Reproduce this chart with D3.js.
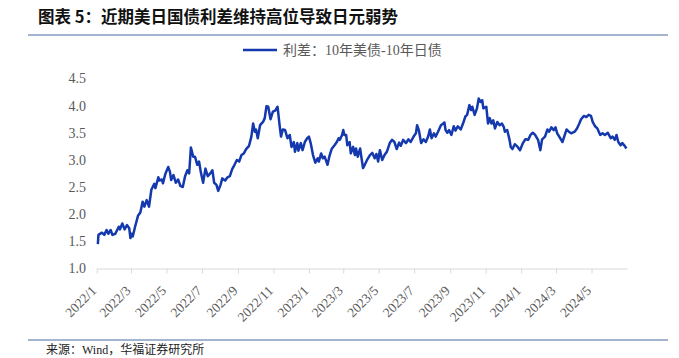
<!DOCTYPE html>
<html>
<head>
<meta charset="utf-8">
<script src="https://cdn.jsdelivr.net/npm/d3@7.9.0/dist/d3.min.js"></script>
<style>
  body { margin: 0; background: #fff; }
  svg { display: block; }
</style>
</head>
<body>
<svg id="chart" width="679" height="358"></svg>
<script>
// 利差：10年美债-10年日债 (%)
const spread2022 = [
  ['2022-01-03', 1.45], ['2022-01-04', 1.62], ['2022-01-10', 1.66], ['2022-01-14', 1.62],
  ['2022-01-18', 1.71], ['2022-01-21', 1.64], ['2022-01-25', 1.71], ['2022-01-28', 1.62],
  ['2022-02-02', 1.64], ['2022-02-08', 1.77], ['2022-02-10', 1.72], ['2022-02-14', 1.83],
  ['2022-02-18', 1.72], ['2022-02-22', 1.80], ['2022-02-26', 1.74], ['2022-02-28', 1.56],
  ['2022-03-02', 1.64], ['2022-03-04', 1.59], ['2022-03-08', 1.77], ['2022-03-13', 1.97],
  ['2022-03-17', 2.03], ['2022-03-21', 2.23], ['2022-03-24', 2.14], ['2022-03-28', 2.26],
  ['2022-04-01', 2.14], ['2022-04-05', 2.45], ['2022-04-10', 2.56], ['2022-04-12', 2.48],
  ['2022-04-17', 2.68], ['2022-04-19', 2.62], ['2022-04-23', 2.64], ['2022-04-25', 2.57],
  ['2022-04-29', 2.74], ['2022-05-04', 2.87], ['2022-05-07', 2.78], ['2022-05-09', 2.63],
  ['2022-05-13', 2.72], ['2022-05-17', 2.58], ['2022-05-21', 2.64], ['2022-05-25', 2.52],
  ['2022-05-29', 2.50], ['2022-06-02', 2.70], ['2022-06-06', 2.81], ['2022-06-09', 2.75],
  ['2022-06-12', 3.23], ['2022-06-16', 3.06], ['2022-06-19', 3.06], ['2022-06-23', 2.91],
  ['2022-06-26', 2.97], ['2022-06-29', 2.78], ['2022-07-03', 2.58], ['2022-07-07', 2.84],
  ['2022-07-11', 2.70], ['2022-07-16', 2.76], ['2022-07-19', 2.81], ['2022-07-22', 2.58],
  ['2022-07-26', 2.54], ['2022-07-29', 2.43], ['2022-08-02', 2.54], ['2022-08-05', 2.66],
  ['2022-08-10', 2.62], ['2022-08-14', 2.68], ['2022-08-18', 2.70], ['2022-08-22', 2.83],
  ['2022-08-26', 2.91], ['2022-08-30', 3.00], ['2022-09-03', 2.97], ['2022-09-07', 3.09],
  ['2022-09-11', 3.12], ['2022-09-15', 3.20], ['2022-09-20', 3.26], ['2022-09-24', 3.43],
  ['2022-09-27', 3.67], ['2022-09-30', 3.52], ['2022-10-02', 3.56], ['2022-10-05', 3.40],
  ['2022-10-09', 3.64], ['2022-10-14', 3.70], ['2022-10-17', 3.77], ['2022-10-20', 3.99],
  ['2022-10-23', 3.98], ['2022-10-27', 3.75], ['2022-10-31', 3.89], ['2022-11-04', 3.91],
  ['2022-11-08', 3.98], ['2022-11-12', 3.60], ['2022-11-14', 3.43], ['2022-11-17', 3.56],
  ['2022-11-21', 3.55], ['2022-11-25', 3.40], ['2022-11-29', 3.46], ['2022-12-02', 3.24],
  ['2022-12-06', 3.33], ['2022-12-08', 3.15], ['2022-12-12', 3.31], ['2022-12-14', 3.17],
  ['2022-12-18', 3.31], ['2022-12-21', 3.18], ['2022-12-25', 3.33], ['2022-12-29', 3.40]
];

const spread2023 = [
  ['2023-01-01', 3.43], ['2023-01-04', 3.31], ['2023-01-08', 3.09], ['2023-01-12', 2.95],
  ['2023-01-16', 3.03], ['2023-01-18', 2.97], ['2023-01-22', 3.12], ['2023-01-25', 3.03],
  ['2023-01-28', 3.06], ['2023-02-02', 2.91], ['2023-02-05', 3.06], ['2023-02-09', 3.20],
  ['2023-02-14', 3.27], ['2023-02-18', 3.33], ['2023-02-21', 3.40], ['2023-02-23', 3.37],
  ['2023-02-27', 3.46], ['2023-03-01', 3.55], ['2023-03-03', 3.46], ['2023-03-06', 3.46],
  ['2023-03-08', 3.27], ['2023-03-12', 3.33], ['2023-03-14', 3.12], ['2023-03-18', 3.24],
  ['2023-03-21', 3.09], ['2023-03-23', 3.21], ['2023-03-26', 3.06], ['2023-03-30', 3.21],
  ['2023-04-04', 2.85], ['2023-04-07', 2.91], ['2023-04-11', 3.00], ['2023-04-16', 3.09],
  ['2023-04-20', 3.13], ['2023-04-24', 3.03], ['2023-04-27', 3.11], ['2023-04-30', 2.97],
  ['2023-05-03', 3.18], ['2023-05-07', 3.00], ['2023-05-11', 3.09], ['2023-05-15', 3.15],
  ['2023-05-20', 3.31], ['2023-05-24', 3.37], ['2023-05-28', 3.33], ['2023-06-01', 3.20],
  ['2023-06-05', 3.32], ['2023-06-08', 3.26], ['2023-06-12', 3.37], ['2023-06-17', 3.31],
  ['2023-06-21', 3.38], ['2023-06-25', 3.33], ['2023-06-30', 3.43], ['2023-07-04', 3.49],
  ['2023-07-06', 3.64], ['2023-07-09', 3.55], ['2023-07-13', 3.31], ['2023-07-17', 3.38],
  ['2023-07-21', 3.33], ['2023-07-25', 3.43], ['2023-07-28', 3.56], ['2023-07-31', 3.40],
  ['2023-08-04', 3.49], ['2023-08-07', 3.43], ['2023-08-11', 3.52], ['2023-08-16', 3.64],
  ['2023-08-20', 3.67], ['2023-08-22', 3.69], ['2023-08-24', 3.55], ['2023-08-27', 3.50],
  ['2023-08-30', 3.55], ['2023-09-03', 3.46], ['2023-09-07', 3.62], ['2023-09-10', 3.54],
  ['2023-09-14', 3.62], ['2023-09-19', 3.56], ['2023-09-23', 3.67], ['2023-09-27', 3.80],
  ['2023-09-30', 3.83], ['2023-10-04', 4.01], ['2023-10-07', 3.92], ['2023-10-09', 3.98],
  ['2023-10-13', 3.83], ['2023-10-17', 3.95], ['2023-10-20', 4.13], ['2023-10-23', 4.07],
  ['2023-10-26', 4.10], ['2023-10-28', 3.95], ['2023-11-02', 3.98], ['2023-11-05', 3.67],
  ['2023-11-08', 3.77], ['2023-11-11', 3.67], ['2023-11-14', 3.73], ['2023-11-17', 3.58],
  ['2023-11-21', 3.70], ['2023-11-25', 3.64], ['2023-11-29', 3.67], ['2023-12-02', 3.61],
  ['2023-12-04', 3.52], ['2023-12-08', 3.55], ['2023-12-12', 3.37], ['2023-12-14', 3.24],
  ['2023-12-17', 3.20], ['2023-12-21', 3.29], ['2023-12-26', 3.24], ['2023-12-30', 3.18]
];

const spread2024 = [
  ['2024-01-04', 3.31], ['2024-01-08', 3.38], ['2024-01-13', 3.37], ['2024-01-17', 3.46],
  ['2024-01-21', 3.50], ['2024-01-25', 3.46], ['2024-01-30', 3.37], ['2024-02-03', 3.18],
  ['2024-02-06', 3.38], ['2024-02-11', 3.43], ['2024-02-15', 3.56], ['2024-02-18', 3.52],
  ['2024-02-22', 3.60], ['2024-02-26', 3.55], ['2024-02-29', 3.60], ['2024-03-03', 3.49],
  ['2024-03-08', 3.40], ['2024-03-12', 3.33], ['2024-03-16', 3.46], ['2024-03-19', 3.56],
  ['2024-03-23', 3.52], ['2024-03-27', 3.49], ['2024-04-02', 3.52], ['2024-04-06', 3.58],
  ['2024-04-10', 3.67], ['2024-04-13', 3.75], ['2024-04-18', 3.81], ['2024-04-22', 3.79],
  ['2024-04-26', 3.83], ['2024-04-30', 3.81], ['2024-05-03', 3.70], ['2024-05-07', 3.62],
  ['2024-05-11', 3.58], ['2024-05-16', 3.46], ['2024-05-20', 3.49], ['2024-05-24', 3.46],
  ['2024-05-29', 3.50], ['2024-06-03', 3.40], ['2024-06-06', 3.43], ['2024-06-10', 3.37],
  ['2024-06-13', 3.46], ['2024-06-16', 3.33], ['2024-06-20', 3.27], ['2024-06-23', 3.31],
  ['2024-06-27', 3.26], ['2024-06-30', 3.21]
];

const xTickLabels = ['2022/1', '2022/3', '2022/5', '2022/7', '2022/9', '2022/11',
  '2023/1', '2023/3', '2023/5', '2023/7', '2023/9', '2023/11',
  '2024/1', '2024/3', '2024/5'];
const yTicks = [1.0, 1.5, 2.0, 2.5, 3.0, 3.5, 4.0, 4.5];

const title = '图表 5：近期美日国债利差维持高位导致日元弱势';
const seriesName = '利差：10年美债-10年日债';
const source = '来源：Wind，华福证券研究所';

const parseDay = d3.timeParse('%Y-%m-%d');
const parseMonth = d3.timeParse('%Y/%m');

const data = [...spread2022, ...spread2023, ...spread2024]
  .map(([d, v]) => ({ date: parseDay(d), value: v }));

const svg = d3.select('#chart');
const lineColor = '#1438ae';
const labelFont = '"Liberation Serif", "Noto Sans CJK SC", serif';

const x = d3.scaleTime()
  .domain([parseDay('2022-01-01'), parseDay('2024-07-01')])
  .range([96.7, 627]);

const y = d3.scaleLinear()
  .domain([1, 4.5])
  .range([268.5, 78.5]);

// title + rule
svg.append('text')
  .attr('x', 38).attr('y', 23)
  .attr('font-family', '"Noto Sans CJK SC", sans-serif')
  .attr('font-weight', 700)
  .attr('font-size', 16.5)
  .attr('fill', '#111')
  .text(title);

svg.append('line')
  .attr('x1', 28).attr('x2', 668)
  .attr('y1', 35).attr('y2', 35)
  .attr('stroke', '#4a6c9f').attr('stroke-width', 1.2);

// legend
svg.append('line')
  .attr('x1', 243).attr('x2', 277)
  .attr('y1', 50).attr('y2', 50)
  .attr('stroke', lineColor).attr('stroke-width', 2.5);

svg.append('text')
  .attr('x', 283).attr('y', 55)
  .attr('font-family', labelFont)
  .attr('font-size', 14)
  .attr('fill', '#595959')
  .text(seriesName);

// y axis (labels only)
const yAxis = svg.append('g')
  .attr('transform', 'translate(86,0)')
  .call(d3.axisLeft(y).tickValues(yTicks).tickFormat(d3.format('.1f')).tickSize(0).tickPadding(0));
yAxis.select('.domain').remove();
yAxis.selectAll('text')
  .attr('font-family', labelFont)
  .attr('font-size', 14)
  .attr('fill', '#595959');

// x axis
const xAxis = svg.append('g')
  .attr('transform', `translate(0,${y(1)})`)
  .call(d3.axisBottom(x)
    .tickValues(xTickLabels.map(parseMonth))
    .tickFormat(d3.timeFormat('%Y/%-m'))
    .tickSizeInner(5).tickSizeOuter(0));
xAxis.select('.domain').attr('stroke', '#d9d9d9');
xAxis.selectAll('.tick line').attr('stroke', '#d9d9d9');
xAxis.selectAll('.tick text')
  .attr('font-family', labelFont)
  .attr('font-size', 13.5)
  .attr('fill', '#595959')
  .attr('text-anchor', 'end')
  .attr('dy', 0)
  .attr('y', 0)
  .attr('transform', 'translate(0,23) rotate(-45)');

// line
const line = d3.line()
  .x(d => x(d.date))
  .y(d => y(d.value));

svg.append('path')
  .datum(data)
  .attr('d', line)
  .attr('fill', 'none')
  .attr('stroke', lineColor)
  .attr('stroke-width', 2.5)
  .attr('stroke-linejoin', 'round');

// source rule + text
svg.append('line')
  .attr('x1', 28).attr('x2', 668)
  .attr('y1', 340).attr('y2', 340)
  .attr('stroke', '#4a6c9f').attr('stroke-width', 1.2);

svg.append('text')
  .attr('x', 46).attr('y', 354)
  .attr('font-family', labelFont)
  .attr('font-size', 12)
  .attr('fill', '#222')
  .text(source);
</script>
</body>
</html>
